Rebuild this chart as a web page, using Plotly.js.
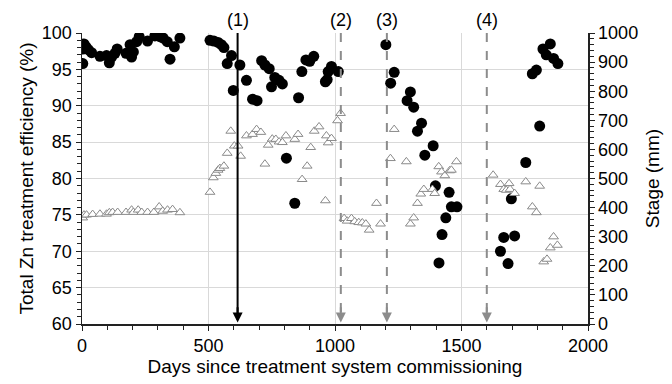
<!DOCTYPE html>
<html>
<head>
<meta charset="utf-8">
<script src="https://cdn.plot.ly/plotly-3.0.1.min.js"></script>
<style>
  html, body { margin: 0; padding: 0; background: #fff; }
  #chart { width: 672px; height: 384px; }
</style>
</head>
<body>
<div id="chart"></div>
<script>
// Total Zn treatment efficiency (%) by day
const effDays = [3, 3, 8, 16, 25, 38, 71, 97, 108, 117, 130, 139, 174, 190, 196, 203, 216, 226, 259, 288, 308, 321, 337, 348, 365, 387,
  506, 521, 538, 551, 561, 574, 591, 598, 624, 650, 674, 692, 710, 723, 740, 749, 762, 779, 792, 808, 841, 856, 869, 885, 900, 916, 962, 969, 973, 986, 1013,
  1201, 1220, 1234, 1285, 1298, 1311, 1326, 1342, 1355, 1388, 1397, 1411, 1423, 1438, 1451, 1460, 1482,
  1654, 1667, 1684, 1697, 1710, 1754, 1780, 1796, 1809, 1822, 1835, 1851, 1864, 1881];
const effVals = [95.8, 97.8, 98.5, 98.1, 97.7, 97.3, 96.8, 96.9, 95.9, 96.7, 97.2, 97.8, 97.2, 98.4, 96.7, 97.4, 98.8, 99.5, 98.9, 99.6, 99.5, 99.3, 98.8, 96.4, 98.1, 99.3,
  99.0, 98.9, 98.7, 98.4, 98.0, 95.8, 96.9, 92.1, 95.6, 93.5, 90.9, 90.7, 96.2, 95.6, 95.1, 92.6, 93.9, 93.5, 93.0, 82.8, 76.6, 91.1, 94.7, 96.3, 96.1, 96.8, 93.3, 93.6, 94.7, 95.4, 94.7,
  98.4, 93.1, 94.6, 90.7, 91.9, 89.8, 86.5, 87.6, 83.2, 84.5, 79.0, 68.4, 72.3, 74.6, 78.1, 76.1, 76.1,
  70.0, 71.9, 68.3, 77.2, 72.1, 82.2, 94.4, 94.9, 87.2, 97.8, 97.0, 98.5, 96.5, 95.8];

// Stage (mm) by day
const stageDays = [3, 8, 18, 42, 71, 97, 108, 121, 141, 174, 196, 203, 222, 236, 259, 284, 305, 319, 338, 358, 387,
  506, 519, 529, 538, 545, 561, 574, 588, 602, 617, 627, 650, 674, 690, 707, 723, 736, 752, 766, 779, 792, 806, 841, 854, 870, 890, 904, 918, 937, 962, 966, 973, 986, 1010, 1022,
  1036, 1048, 1065, 1078, 1094, 1108, 1122, 1135, 1164, 1180,
  1219, 1234, 1282, 1298, 1311, 1326, 1339, 1351, 1385, 1394, 1410, 1421, 1434, 1453, 1460, 1480,
  1625, 1654, 1667, 1677, 1688, 1692, 1710, 1754, 1780, 1796, 1809, 1825, 1838, 1851, 1864, 1879];
const stageVals = [365, 375, 375, 377, 378, 378, 383, 384, 384, 384, 392, 384, 392, 384, 384, 384, 403, 388, 392, 394, 383,
  453, 503, 518, 529, 535, 543, 587, 663, 612, 612, 577, 647, 652, 669, 659, 550, 615, 636, 635, 626, 624, 647, 635, 652, 497, 543, 607, 663, 678, 424, 647, 623, 638, 699, 724,
  363, 354, 363, 352, 349, 348, 344, 323, 415, 344,
  569, 669, 558, 344, 365, 415, 447, 463, 463, 449, 541, 523, 510, 527, 529, 558,
  512, 480, 463, 460, 483, 463, 449, 489, 403, 383, 474, 214, 223, 262, 300, 271];

// Operational events marked on the timeline
const eventDays = [615, 1023, 1205, 1600];
const eventLabels = ['(1)', '(2)', '(3)', '(4)'];

const FONT = 'Liberation Sans, Arial, sans-serif';
const AXIS = '#222';

const traces = [
  {
    x: stageDays, y: stageVals, yaxis: 'y2', type: 'scatter', mode: 'markers',
    name: 'Stage', showlegend: false,
    marker: { symbol: 'triangle-up', size: 8.5, color: 'white', line: { color: '#8a8a8a', width: 1 } }
  },
  {
    x: effDays, y: effVals, type: 'scatter', mode: 'markers',
    name: 'Total Zn treatment efficiency', showlegend: false,
    marker: { symbol: 'circle', size: 11, color: '#000' }
  }
];

const shapes = [];
const annotations = [];
eventDays.forEach((d, i) => {
  const solid = i === 0;
  const col = solid ? '#000' : '#8c8c8c';
  shapes.push({
    type: 'line', xref: 'x', yref: 'y', x0: d, x1: d, y0: 100, y1: 61.5,
    line: { color: col, width: 2, dash: solid ? 'solid' : 'dash' }, layer: 'above'
  });
  annotations.push({
    x: d, y: 60.2, xref: 'x', yref: 'y', ax: d, ay: 62.5, axref: 'x', ayref: 'y',
    text: '', showarrow: true, arrowhead: 2, arrowsize: 1, arrowwidth: 2, arrowcolor: col, standoff: 0
  });
  annotations.push({
    x: d, y: 1, xref: 'x', yref: 'paper', yanchor: 'bottom', showarrow: false,
    text: eventLabels[i], yshift: 1, font: { family: FONT, size: 18, color: '#000' }
  });
});

const layout = {
  width: 672, height: 384,
  margin: { l: 82, r: 84, t: 33, b: 60 },
  paper_bgcolor: '#fff', plot_bgcolor: '#fff',
  font: { family: FONT, size: 18, color: '#000' },
  xaxis: {
    range: [0, 2000], dtick: 500, tick0: 0, automargin: false,
    showgrid: true, gridcolor: '#d9d9d9', gridwidth: 1, zeroline: false,
    showline: true, linecolor: AXIS, linewidth: 1.5,
    ticks: 'outside', ticklen: 5, tickcolor: AXIS,
    minor: { dtick: 100, ticks: 'outside', ticklen: 4, tickcolor: AXIS, showgrid: false },
    title: { text: 'Days since treatment system commissioning', font: { size: 19 }, standoff: 2 }
  },
  yaxis: {
    range: [60, 100], dtick: 5, tick0: 60, automargin: false,
    showgrid: true, gridcolor: '#d9d9d9', gridwidth: 1, zeroline: false,
    showline: true, linecolor: AXIS, linewidth: 1.5,
    ticks: 'outside', ticklen: 5, tickcolor: AXIS,
    minor: { dtick: 1, ticks: 'outside', ticklen: 4, tickcolor: AXIS, showgrid: false },
    title: { text: 'Total Zn treatment efficiency (%)', font: { size: 19 }, standoff: 3 }
  },
  yaxis2: {
    range: [0, 1000], dtick: 100, tick0: 0, overlaying: 'y', side: 'right', automargin: false,
    showgrid: false, zeroline: false,
    showline: true, linecolor: AXIS, linewidth: 1.5,
    ticks: 'outside', ticklen: 5, tickcolor: AXIS,
    minor: { dtick: 20, ticks: 'outside', ticklen: 4, tickcolor: AXIS, showgrid: false },
    title: { text: 'Stage (mm)', font: { size: 19 }, standoff: 8 }
  },
  shapes: shapes,
  annotations: annotations
};

Plotly.newPlot('chart', traces, layout, { displayModeBar: false, staticPlot: true });
</script>
</body>
</html>
